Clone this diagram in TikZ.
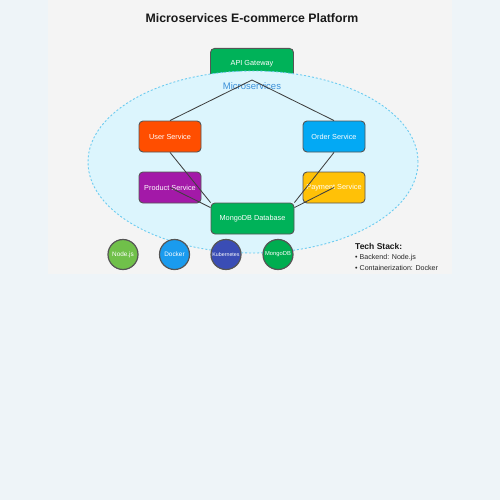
\documentclass[tikz,border=0pt]{standalone}
\usepackage{fontspec}
\setmainfont{Liberation Sans}
\definecolor{outerbg}{HTML}{EEF4F8}
\definecolor{panelbg}{HTML}{F4F4F4}
\definecolor{ellfill}{HTML}{DCF5FD}
\definecolor{elldraw}{HTML}{6CCBF0}
\definecolor{msblue}{HTML}{3A8FD8}
\definecolor{gwgreen}{HTML}{00B259}
\definecolor{userc}{HTML}{FF4E00}
\definecolor{orderc}{HTML}{03A9F4}
\definecolor{prodc}{HTML}{A319A8}
\definecolor{payc}{HTML}{FFC107}
\definecolor{nodec}{HTML}{70C04A}
\definecolor{dockc}{HTML}{1A9BEE}
\definecolor{kubec}{HTML}{3A4DB5}
\definecolor{mongoc}{HTML}{00AD50}
\definecolor{strk}{HTML}{555555}
\begin{document}
\begin{tikzpicture}[x=1pt,y=-1pt,
  svc/.style={draw=strk,line width=0.9pt,rounded corners=4pt,minimum width=62pt,minimum height=31pt,inner sep=0pt,text=white,font=\fontsize{7.3}{8}\selectfont},
  tech/.style={circle,draw=strk,line width=1.2pt,minimum size=30pt,inner sep=0pt,text=white},
  conn/.style={draw=black!75,line width=0.85pt}]
\useasboundingbox (0,0) rectangle (500,500);
\fill[outerbg] (0,0) rectangle (500,500);
\fill[panelbg] (48,0) rectangle (452,274);
\node[font=\fontsize{12.3}{14}\selectfont\bfseries,text=black!90] (title) at (252,18) {Microservices E-commerce Platform};
\node[svc,fill=gwgreen,minimum width=83pt,minimum height=33pt,anchor=north] (gw) at (252,48) {};
\node[font=\fontsize{7.3}{8}\selectfont,text=white] (gwt) at (252,64) {API Gateway};
\draw[elldraw,line width=0.9pt,fill=ellfill,dash pattern=on 2pt off 2pt] (253,162) ellipse (165pt and 91pt);
\coordinate (gwb) at (252,80);
\node[font=\fontsize{9.5}{11}\selectfont,text=msblue] (mslabel) at (252,86) {Microservices};
\node[svc,fill=userc] (user) at (170,136.5) {User Service};
\node[svc,fill=orderc] (order) at (334,136.5) {Order Service};
\node[svc,fill=prodc] (prod) at (170,187.5) {Product Service};
\node[svc,fill=payc] (pay) at (334,187.5) {Payment Service};
\node[svc,fill=gwgreen,minimum width=83pt] (db) at (252.5,218.5) {MongoDB Database};
\draw[conn] (gwb) -- (user.north);
\draw[conn] (gwb) -- (order.north);
\draw[conn] (user.south) -- (db.north west);
\draw[conn] (order.south) -- (db.north east);
\draw[conn] (prod.center) -- ([yshift=-5pt]db.north west);
\draw[conn] (pay.center) -- ([yshift=-5pt]db.north east);
\node[tech,fill=nodec,font=\fontsize{6.4}{7}\selectfont] (nodejs) at (123,254.5) {Node.js};
\node[tech,fill=dockc,font=\fontsize{6.4}{7}\selectfont] (docker) at (174.5,254.5) {Docker};
\node[tech,fill=kubec,font=\fontsize{5.3}{6}\selectfont] (kube) at (226,254.5) {Kubernetes};
\node[tech,fill=mongoc,font=\fontsize{5.8}{6}\selectfont] (mongo) at (278,254.5) {MongoDB};
\node[anchor=west,inner sep=0pt,font=\fontsize{8.5}{10}\selectfont\bfseries,text=black!90] (ts) at (355,246) {Tech Stack:};
\node[anchor=west,inner sep=0pt,font=\fontsize{7.1}{8}\selectfont,text=black!85] (ts1) at (355,258) {• Backend: Node.js};
\node[anchor=west,inner sep=0pt,font=\fontsize{7.1}{8}\selectfont,text=black!85] (ts2) at (355,268) {• Containerization: Docker};
\end{tikzpicture}
\end{document}
